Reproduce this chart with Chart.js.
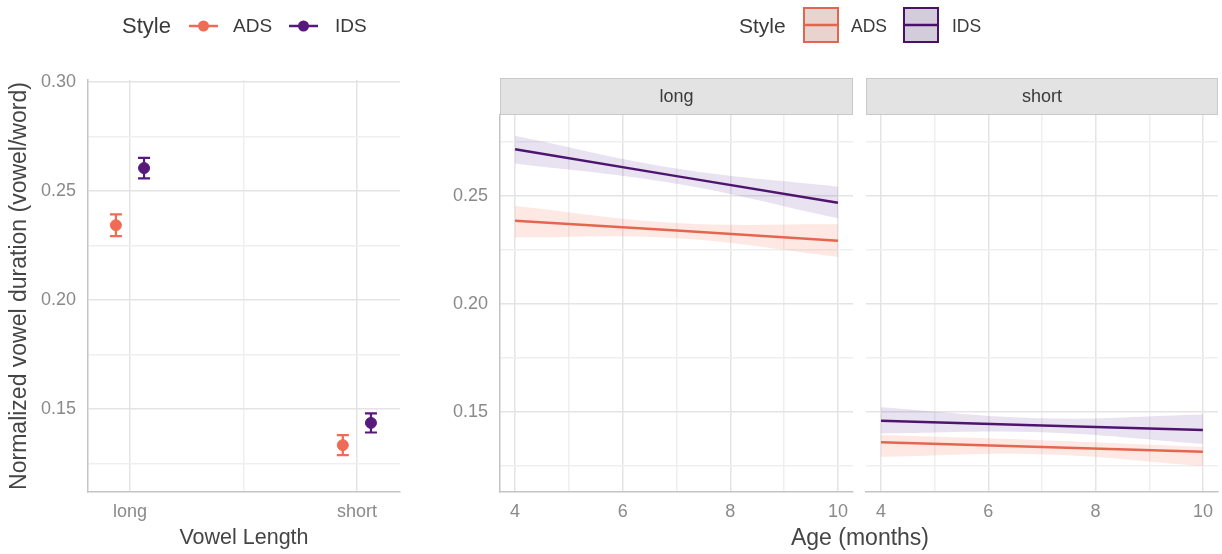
<!DOCTYPE html>
<html><head><meta charset="utf-8">
<script src="https://cdn.jsdelivr.net/npm/chart.js@4/dist/chart.umd.min.js"></script>
<style>
html,body{margin:0;padding:0;background:#fff;}
body{width:1222px;height:554px;position:relative;overflow:hidden;}
canvas{position:absolute;top:0;}
#c1{left:0;} #c2{left:420px;} #c3{left:860px;}
</style></head><body>
<canvas id="c1" width="420" height="554"></canvas>
<canvas id="c2" width="802" height="554"></canvas>
<canvas id="c3" width="362" height="554"></canvas>
<script>
// ---------- data ----------
const lengthCategories = ['long', 'short'];
const styleNames = ['ADS', 'IDS'];
const adsMean = [0.2344, 0.1335];
const adsErr  = [0.0050, 0.0046];
const idsMean = [0.2606, 0.1437];
const idsErr  = [0.0047, 0.0044];

const durationTicks  = [0.125, 0.15, 0.175, 0.20, 0.225, 0.25, 0.275, 0.30];
const durationLabels = ['', '0.15', '', '0.20', '', '0.25', '', '0.30'];
const lengthTicks  = [1, 1.5, 2];
const lengthLabels = ['long', '', 'short'];
const ageTicks  = [4, 5, 6, 7, 8, 9, 10];
const ageLabels = ['4', '', '6', '', '8', '', '10'];
const facetNames = ['long', 'short'];

const fitAges = [4, 7, 10];
const longAdsFit = [0.2386, 0.2340, 0.2293];
const longAdsLo  = [0.2309, 0.2305, 0.2219];
const longAdsHi  = [0.2454, 0.2375, 0.2369];
const longIdsFit = [0.2716, 0.2592, 0.2469];
const longIdsLo  = [0.2651, 0.2557, 0.2397];
const longIdsHi  = [0.2779, 0.2627, 0.2543];
const shortAdsFit = [0.1360, 0.1338, 0.1316];
const shortAdsLo  = [0.1293, 0.1305, 0.1250];
const shortAdsHi  = [0.1394, 0.1370, 0.1339];
const shortIdsFit = [0.1460, 0.1438, 0.1417];
const shortIdsLo  = [0.1401, 0.1406, 0.1352];
const shortIdsHi  = [0.1522, 0.1471, 0.1489];

// ---------- style ----------
const FONT = "'Liberation Sans', Arial, sans-serif";
Chart.defaults.font.family = FONT;
const ADS_COL = '#EE6C55', IDS_COL = '#571A7C';
const ADS_LINE = '#E2654F', IDS_LINE = '#4B1169';
const ADS_FILL = 'rgba(240,110,90,0.16)', IDS_FILL = 'rgba(100,50,150,0.14)';
const TICK_COL = '#8a8a8a', TITLE_COL = '#454545', AXIS_COL = '#c4c4c4';
const GRID_MAJ = '#e4e4e4', GRID_MIN = '#efefef';
const DODGE = 0.062;

function labelFor(ticks, labels) {
  return v => {
    const i = ticks.findIndex(t => Math.abs(t - v) < 1e-9);
    return i >= 0 ? labels[i] : '';
  };
}
function gridColor(ticks, labels) {
  const f = labelFor(ticks, labels);
  return ctx => (ctx.tick && f(ctx.tick.value) !== '') ? GRID_MAJ : GRID_MIN;
}
function setTicks(ticks) {
  return s => { s.ticks = ticks.filter(v => v >= s.min - 1e-9 && v <= s.max + 1e-9).map(v => ({value: v})); };
}
function txt(ctx, s, x, y, size, color, align) {
  ctx.save();
  ctx.font = size + 'px ' + FONT;
  ctx.fillStyle = color;
  ctx.textAlign = align || 'left';
  ctx.textBaseline = 'middle';
  ctx.fillText(s, x, y);
  ctx.restore();
}

// ---------- left chart ----------
const errPlugin = {
  id: 'errbars',
  beforeDatasetsDraw(chart) {
    const ctx = chart.ctx, xs = chart.scales.x, ys = chart.scales.y;
    chart.data.datasets.forEach(ds => {
      ds.data.forEach((p, i) => {
        const x = xs.getPixelForValue(p.x);
        const y1 = ys.getPixelForValue(p.y - ds.err[i]);
        const y2 = ys.getPixelForValue(p.y + ds.err[i]);
        ctx.save();
        ctx.strokeStyle = ds.backgroundColor;
        ctx.lineWidth = 2.2;
        ctx.beginPath();
        ctx.moveTo(x, y1); ctx.lineTo(x, y2);
        ctx.moveTo(x - 6, y1); ctx.lineTo(x + 6, y1);
        ctx.moveTo(x - 6, y2); ctx.lineTo(x + 6, y2);
        ctx.stroke();
        ctx.restore();
      });
    });
  },
  afterDraw(chart) {
    const ctx = chart.ctx;
    txt(ctx, 'Style', 122, 27, 22, '#3a3a3a');
    const keys = [[189, 233, ADS_COL, styleNames[0]], [289, 335, IDS_COL, styleNames[1]]];
    keys.forEach(([x0, tx, c, name]) => {
      ctx.save();
      ctx.strokeStyle = c; ctx.lineWidth = 2.5;
      ctx.beginPath(); ctx.moveTo(x0, 26); ctx.lineTo(x0 + 29, 26); ctx.stroke();
      ctx.fillStyle = c;
      ctx.beginPath(); ctx.arc(x0 + 14.5, 26, 5.5, 0, Math.PI * 2); ctx.fill();
      ctx.restore();
      txt(ctx, name, tx, 27, 19, '#3a3a3a');
    });
  }
};

new Chart(document.getElementById('c1'), {
  type: 'scatter',
  data: {
    datasets: [
      { label: 'ADS', data: lengthCategories.map((c, i) => ({x: i + 1 - DODGE, y: adsMean[i]})),
        err: adsErr, backgroundColor: ADS_COL, borderColor: ADS_COL, pointRadius: 5.5, pointHoverRadius: 5.5 },
      { label: 'IDS', data: lengthCategories.map((c, i) => ({x: i + 1 + DODGE, y: idsMean[i]})),
        err: idsErr, backgroundColor: IDS_COL, borderColor: IDS_COL, pointRadius: 5.5, pointHoverRadius: 5.5 }
    ]
  },
  options: {
    responsive: false, animation: false,
    layout: { padding: { top: 80, right: 20, left: 0, bottom: 0 } },
    plugins: { legend: { display: false }, tooltip: { enabled: false } },
    scales: {
      x: {
        type: 'linear', min: 0.815, max: 2.19,
        afterBuildTicks: setTicks(lengthTicks),
        afterFit: s => { s.height = 62; },
        ticks: { autoSkip: false, maxRotation: 0, padding: 9, color: TICK_COL, font: { size: 18 },
                 callback: labelFor(lengthTicks, lengthLabels) },
        grid: { drawTicks: false, color: gridColor(lengthTicks, lengthLabels), lineWidth: 1.5 },
        border: { color: AXIS_COL, width: 1.5 },
        title: { display: true, text: 'Vowel Length', color: TITLE_COL, font: { size: 21.5 }, padding: { top: 0, bottom: 3 } }
      },
      y: {
        min: 0.112, max: 0.301,
        afterBuildTicks: setTicks(durationTicks),
        afterFit: s => { s.width = 88; },
        ticks: { autoSkip: false, padding: 12, color: TICK_COL, font: { size: 18 },
                 callback: labelFor(durationTicks, durationLabels) },
        grid: { drawTicks: false, color: gridColor(durationTicks, durationLabels), lineWidth: 1.5 },
        border: { color: AXIS_COL, width: 1.5 },
        title: { display: true, text: 'Normalized vowel duration (vowel/word)', color: TITLE_COL, font: { size: 23 }, padding: { top: 6, bottom: 0 } }
      }
    }
  },
  plugins: [errPlugin]
});

// ---------- facet charts ----------
function facetDatasets(adsFit, adsLo, adsHi, idsFit, idsLo, idsHi) {
  const pts = arr => fitAges.map((a, i) => ({x: a, y: arr[i]}));
  const band = (lo, hi, fill) => [
    { data: pts(lo), borderWidth: 0, pointRadius: 0, fill: false, tension: 0.4 },
    { data: pts(hi), borderWidth: 0, pointRadius: 0, fill: '-1', backgroundColor: fill, tension: 0.4 }
  ];
  return [
    ...band(adsLo, adsHi, ADS_FILL),
    ...band(idsLo, idsHi, IDS_FILL),
    { data: pts(adsFit), borderColor: ADS_LINE, borderWidth: 2.5, pointRadius: 0, fill: false },
    { data: pts(idsFit), borderColor: IDS_LINE, borderWidth: 2.5, pointRadius: 0, fill: false }
  ];
}
function stripPlugin(name) {
  return {
    id: 'strip' + name,
    afterDraw(chart) {
      const ctx = chart.ctx, a = chart.chartArea;
      ctx.save();
      ctx.fillStyle = '#e3e3e3';
      ctx.strokeStyle = '#c9c9c9';
      ctx.lineWidth = 1;
      ctx.fillRect(a.left, 78, a.right - a.left, 37);
      ctx.strokeRect(a.left + 0.5, 78.5, a.right - a.left - 1, 36);
      ctx.restore();
      txt(ctx, name, (a.left + a.right) / 2, 97, 18, '#3a3a3a', 'center');
    }
  };
}
function facetOptions(showY, padRight, yWidth) {
  return {
    responsive: false, animation: false,
    layout: { padding: { top: 115, right: padRight, left: 0, bottom: 0 } },
    plugins: { legend: { display: false }, tooltip: { enabled: false } },
    scales: {
      x: {
        type: 'linear', min: 3.72, max: 10.28,
        afterBuildTicks: setTicks(ageTicks),
        afterFit: s => { s.height = 62; },
        ticks: { autoSkip: false, maxRotation: 0, padding: 9, color: TICK_COL, font: { size: 18 },
                 callback: labelFor(ageTicks, ageLabels) },
        grid: { drawTicks: false, color: gridColor(ageTicks, ageLabels), lineWidth: 1.5 },
        border: { color: AXIS_COL, width: 1.5 }
      },
      y: {
        min: 0.113, max: 0.2875,
        afterBuildTicks: setTicks(durationTicks),
        afterFit: s => { s.width = yWidth; },
        ticks: { display: showY, autoSkip: false, padding: 12, color: TICK_COL, font: { size: 18 },
                 callback: labelFor(durationTicks, durationLabels) },
        grid: { drawTicks: false, color: gridColor(durationTicks, durationLabels), lineWidth: 1.5 },
        border: { display: showY, color: AXIS_COL, width: 1.5 }
      }
    }
  };
}
const OFF2 = 420;
const rightLegend = {
  id: 'rightLegend',
  afterDraw(chart) {
    const ctx = chart.ctx;
    txt(ctx, 'Style', 739 - OFF2, 27, 21, '#3a3a3a');
    const keys = [[803, 851, ADS_LINE, ADS_FILL, styleNames[0]], [903, 952, IDS_LINE, IDS_FILL, styleNames[1]]];
    keys.forEach(([bx, tx, c, f, name]) => {
      const x = bx - OFF2;
      ctx.save();
      ctx.fillStyle = '#e6e6e6'; ctx.fillRect(x, 7, 36, 36);
      ctx.fillStyle = f; ctx.fillRect(x, 7, 36, 36);
      ctx.strokeStyle = c; ctx.lineWidth = 2;
      ctx.strokeRect(x + 1, 8, 34, 34);
      ctx.lineWidth = 2.5;
      ctx.beginPath(); ctx.moveTo(x + 1, 25); ctx.lineTo(x + 35, 25); ctx.stroke();
      ctx.restore();
      txt(ctx, name, tx - OFF2, 27, 17.5, '#3a3a3a');
    });
    txt(ctx, 'Age (months)', 860 - OFF2, 539, 23, TITLE_COL, 'center');
  }
};

new Chart(document.getElementById('c2'), {
  type: 'line',
  data: { datasets: facetDatasets(longAdsFit, longAdsLo, longAdsHi, longIdsFit, longIdsLo, longIdsHi) },
  options: facetOptions(true, 802 - 433, 80),
  plugins: [stripPlugin(facetNames[0]), rightLegend]
});
new Chart(document.getElementById('c3'), {
  type: 'line',
  data: { datasets: facetDatasets(shortAdsFit, shortAdsLo, shortAdsHi, shortIdsFit, shortIdsLo, shortIdsHi) },
  options: facetOptions(false, 2, 6),
  plugins: [stripPlugin(facetNames[1])]
});
</script>
</body></html>
